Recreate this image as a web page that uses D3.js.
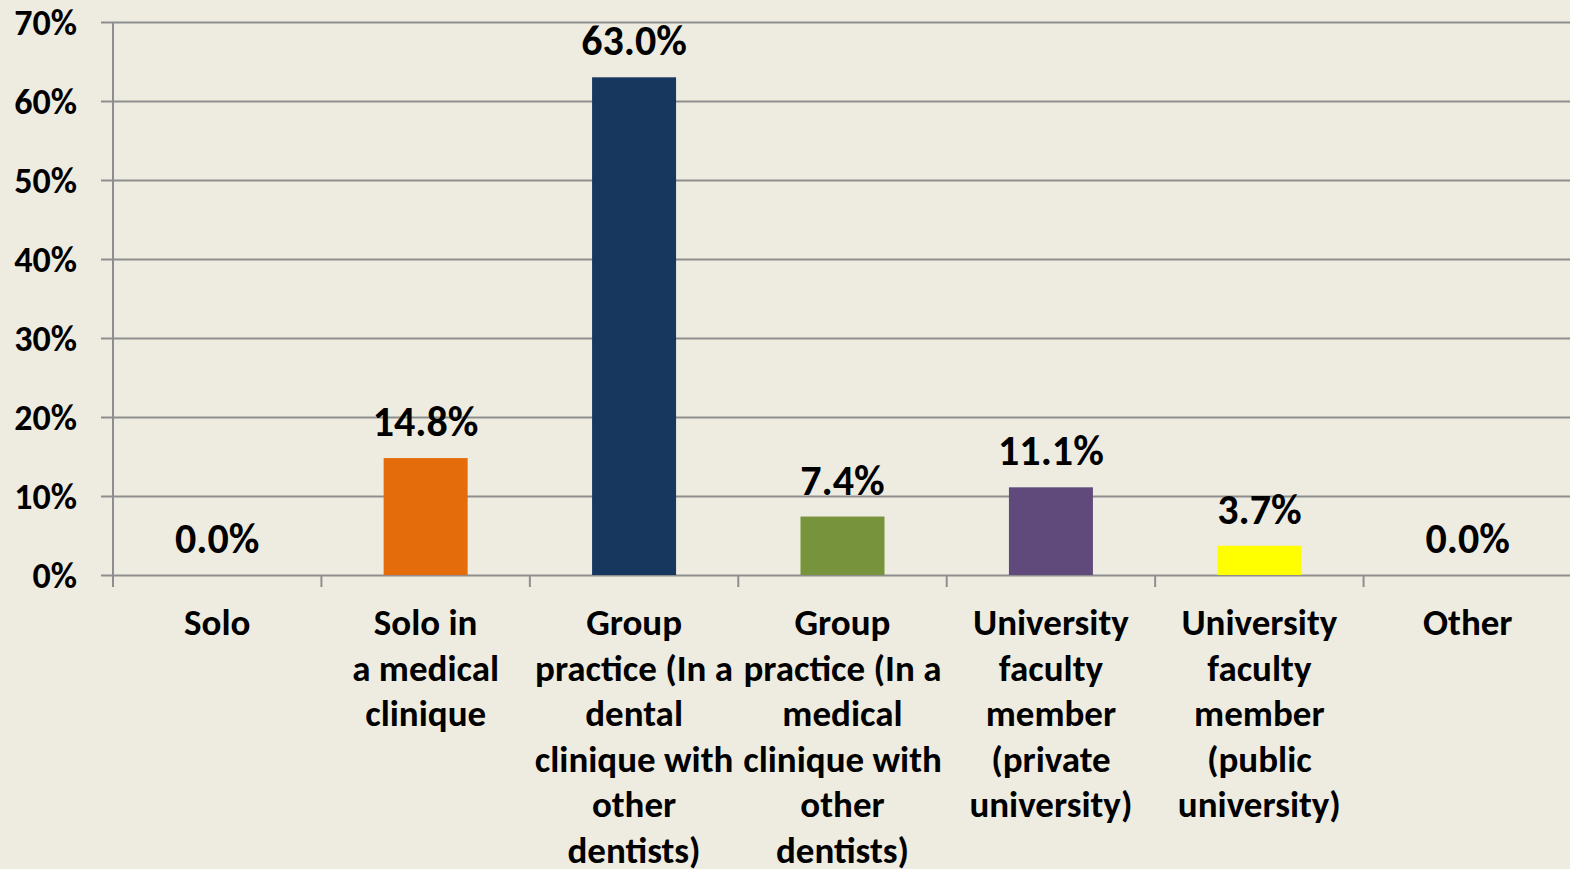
<!DOCTYPE html>
<html lang="en">
<head>
  <meta charset="UTF-8">
  <script src="https://d3js.org/d3.v7.min.js" charset="utf-8"></script>
  <title>Practice type</title>
  <style>
    html, body { margin: 0; padding: 0; background: #EEECE1; overflow: hidden; }
    text { font-family: Carlito, Calibri, "Noto Sans", sans-serif; font-weight: bold; fill: #000; }
  </style>
</head>
<body>
  <div class="chart"></div>
  <script>
    // chart data
    const categories = [
      ['Solo'],
      ['Solo in', 'a medical', 'clinique'],
      ['Group', 'practice (In a', 'dental', 'clinique with', 'other', 'dentists)'],
      ['Group', 'practice (In a', 'medical', 'clinique with', 'other', 'dentists)'],
      ['University', 'faculty', 'member', '(private', 'university)'],
      ['University', 'faculty', 'member', '(public', 'university)'],
      ['Other']
    ];
    const values = [0.0, 14.8, 63.0, 7.4, 11.1, 3.7, 0.0];
    const colors = ['#4F81BD', '#E46C0A', '#17375E', '#77933C', '#604A7B', '#FFFF00', '#4F81BD'];
    const yTicks = [0, 10, 20, 30, 40, 50, 60, 70];

    const width = 1570, height = 869;
    const plotLeft = 113, plotRight = 1572, plotTop = 22, plotBottom = 575;

    const svg = d3.select('.chart').append('svg').attr('width', width).attr('height', height);

    const x = d3.scaleBand().domain(d3.range(values.length)).range([plotLeft, plotRight]).padding(0);
    const y = d3.scaleLinear().domain([0, 70]).range([plotBottom, plotTop]);
    const barW = x.bandwidth() * 0.403;

    // gridlines + y axis
    const yAxis = d3.axisLeft(y).tickValues(yTicks).tickFormat(d => d + '%').tickSize(12).tickPadding(24);
    const gy = svg.append('g').attr('transform', `translate(${plotLeft},0)`).call(yAxis);
    gy.select('.domain').remove();
    gy.selectAll('.tick line').attr('x2', plotRight - plotLeft).attr('x1', -12).attr('stroke', '#8E8E8E').attr('stroke-width', 2);
    gy.selectAll('.tick text').style('font-size', '36px').attr('dy', '0.34em');

    svg.append('line').attr('x1', plotLeft).attr('x2', plotLeft).attr('y1', plotTop).attr('y2', plotBottom + 12)
      .attr('stroke', '#8E8E8E').attr('stroke-width', 2);

    // x axis ticks between categories
    svg.append('g').selectAll('line').data(d3.range(1, values.length)).join('line')
      .attr('x1', d => x(d)).attr('x2', d => x(d)).attr('y1', plotBottom).attr('y2', plotBottom + 12)
      .attr('stroke', '#8E8E8E').attr('stroke-width', 2);

    // bars
    svg.append('g').selectAll('rect').data(values).join('rect')
      .attr('x', (d, i) => x(i) + x.bandwidth() / 2 - barW / 2)
      .attr('y', d => y(d))
      .attr('width', barW)
      .attr('height', d => plotBottom - y(d))
      .attr('fill', (d, i) => colors[i]);

    // value labels
    svg.append('g').selectAll('text').data(values).join('text')
      .attr('x', (d, i) => x(i) + x.bandwidth() / 2)
      .attr('y', d => y(d) - 22)
      .attr('text-anchor', 'middle')
      .style('font-size', '42px')
      .text(d => d.toFixed(1) + '%');

    // category labels
    const cat = svg.append('g').selectAll('text').data(categories).join('text')
      .attr('text-anchor', 'middle')
      .style('font-size', '37px');
    cat.each(function (lines, i) {
      d3.select(this).selectAll('tspan').data(lines).join('tspan')
        .attr('x', x(i) + x.bandwidth() / 2)
        .attr('y', (d, j) => 635 + j * 45.6)
        .text(d => d);
    });
  </script>
</body>
</html>
